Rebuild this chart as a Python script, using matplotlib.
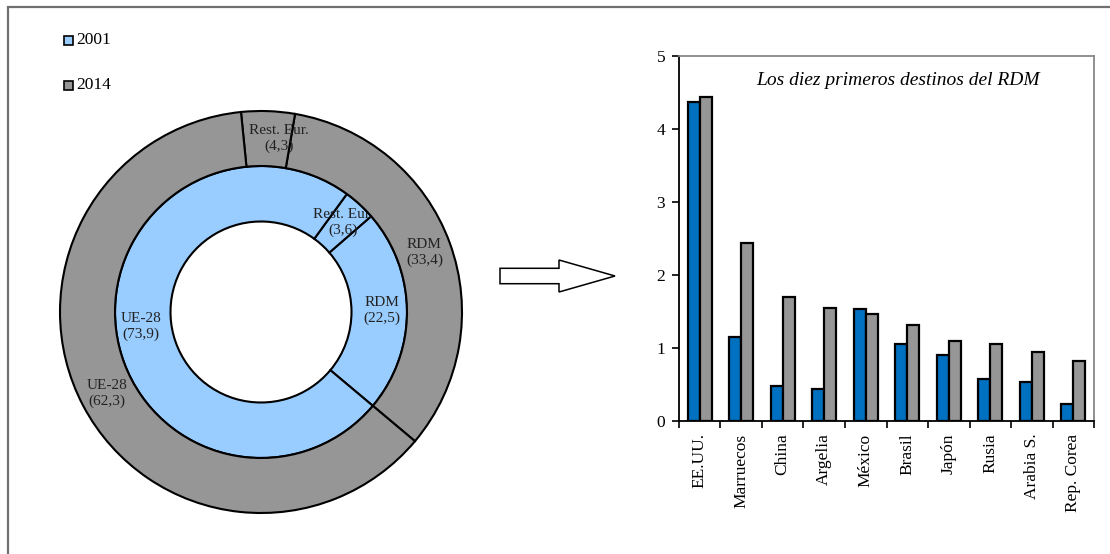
import matplotlib.pyplot as plt
import numpy as np
from matplotlib.patches import Polygon, Rectangle

plt.rcParams['font.family'] = ['Liberation Serif', 'DejaVu Serif']

# Cuotas por zona de destino (%), anillo interior 2001 y exterior 2014
regiones = ['RDM', 'Rest. Eur.', 'UE-28']
cuota_2001 = [22.5, 3.6, 73.9]
cuota_2014 = [33.4, 4.3, 62.3]

# Diez primeros destinos del RDM
paises = ['EE.UU.', 'Marruecos', 'China', 'Argelia', 'México', 'Brasil',
          'Japón', 'Rusia', 'Arabia S.', 'Rep. Corea']
valores_2001 = [4.37, 1.15, 0.48, 0.44, 1.53, 1.05, 0.91, 0.57, 0.53, 0.23]
valores_2014 = [4.44, 2.44, 1.70, 1.55, 1.46, 1.31, 1.09, 1.06, 0.94, 0.82]

azul_claro = '#99CCFF'
azul = '#0070C0'
gris = '#969696'

fig = plt.figure(figsize=(11.1, 5.54), dpi=100)

# Lienzo en pixeles para el anillo, la flecha y la leyenda
ax = fig.add_axes([0, 0, 1, 1])
cx, cy = 261, 242
r_out, r_mid, r_in = 201, 146, 90.5
inicio = -40

ax.pie(cuota_2001, radius=r_mid, center=(cx, cy), startangle=inicio,
       colors=[azul_claro] * 3,
       wedgeprops=dict(width=r_mid - r_in, edgecolor='black', linewidth=1.5, zorder=1))
ax.pie(cuota_2014, radius=r_out, center=(cx, cy), startangle=inicio,
       colors=[gris] * 3,
       wedgeprops=dict(width=r_out - r_mid, edgecolor='black', linewidth=1.5, zorder=2))


def etiquetas(valores, radio, z, giro=(0, 0, 0)):
    ang = inicio
    for nombre, v, g in zip(regiones, valores, giro):
        medio = np.radians(ang + v * 3.6 / 2 + g)
        ang += v * 3.6
        texto = f"{nombre}\n({str(v).replace('.', ',')})"
        ax.text(cx + radio * np.cos(medio), cy + radio * np.sin(medio), texto,
                ha='center', va='center', fontsize=11, color='#222222',
                linespacing=1.25, zorder=z)


etiquetas(cuota_2001, 121, 1.5)
etiquetas(cuota_2014, 174, 3, giro=(0, -4, 0))

# Leyenda
for yy, col, lab in [(40, azul_claro, '2001'), (85, gris, '2014')]:
    ax.add_patch(Rectangle((63.5, 554 - yy - 4.5), 9.5, 9, facecolor=col,
                           edgecolor='black', linewidth=1.2))
    ax.text(76, 554 - yy, lab, ha='left', va='center', fontsize=12.5)

# Flecha hueca
flecha = [(500, 268.3), (559, 268.3), (559, 260), (615, 276), (559, 292),
          (559, 283.7), (500, 283.7)]
ax.add_patch(Polygon([(px, 554 - py) for px, py in flecha], closed=True,
                     facecolor='white', edgecolor='black', linewidth=1.1))

# Marco exterior
ax.add_patch(Rectangle((8, -20), 1200, 554 - 6.5 + 20, fill=False,
                       edgecolor='#707070', linewidth=1.6, clip_on=False))

ax.set_xlim(0, 1110)
ax.set_ylim(0, 554)
ax.set_aspect('auto')
ax.axis('off')

# Barras
axb = fig.add_axes([0.6117, 0.2401, 0.3739, 0.6588])
x = np.arange(len(paises))
w = 0.29
axb.bar(x - w / 2, valores_2001, w, color=azul, edgecolor='black', linewidth=1.6)
axb.bar(x + w / 2, valores_2014, w, color=gris, edgecolor='black', linewidth=1.6)
axb.set_xlim(-0.5, 9.5)
axb.set_ylim(0, 5)
axb.set_yticks(range(6))
axb.set_xticks(np.arange(-0.5, 10, 1))
axb.set_xticklabels([])
axb.set_xticks(x, minor=True)
axb.set_xticklabels(paises, minor=True, rotation=90, fontsize=12.5)
axb.tick_params(axis='x', which='minor', length=0, pad=9)
axb.tick_params(axis='x', which='major', length=5, width=1.2)
axb.tick_params(axis='y', length=5, width=1.2, labelsize=12.5, pad=5)
for s in ['left', 'bottom']:
    axb.spines[s].set_linewidth(1.3)
for s in ['top', 'right']:
    axb.spines[s].set_color('#888888')
    axb.spines[s].set_linewidth(1.3)
axb.text(0.528, 0.934, 'Los diez primeros destinos del RDM', transform=axb.transAxes,
         ha='center', va='center', fontsize=14, style='italic')

fig.savefig('out.png', dpi=100)
